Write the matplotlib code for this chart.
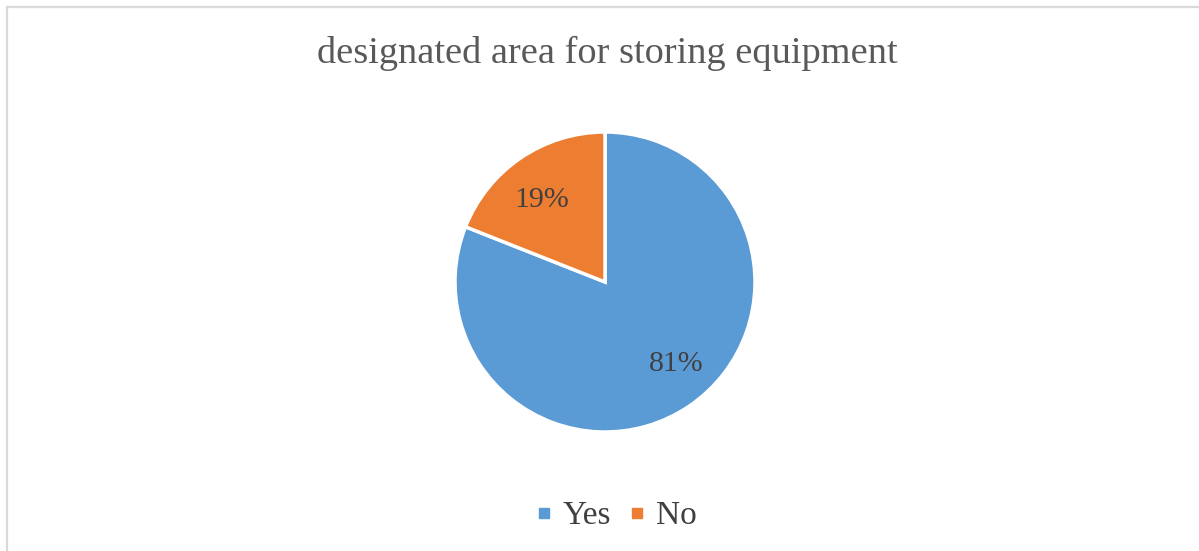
import matplotlib
matplotlib.use("Agg")
import matplotlib.pyplot as plt
from matplotlib.lines import Line2D

# Survey responses
categories = ["Yes", "No"]
shares = [81, 19]
colors = ["#5B9BD5", "#ED7D31"]
title = "designated area for storing equipment"

W, H = 1199, 551
DPI = 100
plt.rcParams["font.family"] = ["Liberation Serif", "DejaVu Serif"]
text_color = "#404040"

fig = plt.figure(figsize=(W / DPI, H / DPI), dpi=DPI)

# Chart frame (light gray border)
fig.add_artist(Line2D([6.5 / W, 6.5 / W], [0, 1 - 6.5 / H], transform=fig.transFigure,
                      color="#d9d9d9", lw=1.6))
fig.add_artist(Line2D([6.5 / W, 1], [1 - 6.5 / H, 1 - 6.5 / H], transform=fig.transFigure,
                      color="#d9d9d9", lw=1.6))

# Pie area
cx, cy, r = 605, H - 282, 150
ax = fig.add_axes([(cx - r) / W, (cy - r) / H, 2 * r / W, 2 * r / H])
wedges, texts, autotexts = ax.pie(
    shares, colors=colors, startangle=90, counterclock=False,
    autopct=lambda p: f"{p:.0f}%", pctdistance=0.7,
    wedgeprops=dict(edgecolor="white", linewidth=2.5),
    textprops=dict(fontsize=21.5, color=text_color),
)
# Nudge the percentage labels slightly within their slices
label_offsets = [(0.08, 0.03), (-0.03, -0.03)]
for t, (dx, dy) in zip(autotexts, label_offsets):
    x, y = t.get_position()
    t.set_position((x + dx, y + dy))

ax.set_xlim(-1, 1)
ax.set_ylim(-1, 1)
ax.set_aspect("equal")
ax.axis("off")

fig.text(607 / W, 1 - 63 / H, title, ha="center", va="baseline",
         fontsize=27.6, color="#595959")

handles = [Line2D([], [], marker="s", linestyle="none", markersize=7,
                  markerfacecolor=c, markeredgecolor=c) for c in colors]
fig.legend(handles, categories, loc="center", bbox_to_anchor=(612 / W, 1 - 516 / H),
           ncol=2, frameon=False, fontsize=24, labelcolor=text_color,
           handletextpad=0.05, columnspacing=0.28, handlelength=1.0)

fig.savefig("out.png", dpi=DPI)
